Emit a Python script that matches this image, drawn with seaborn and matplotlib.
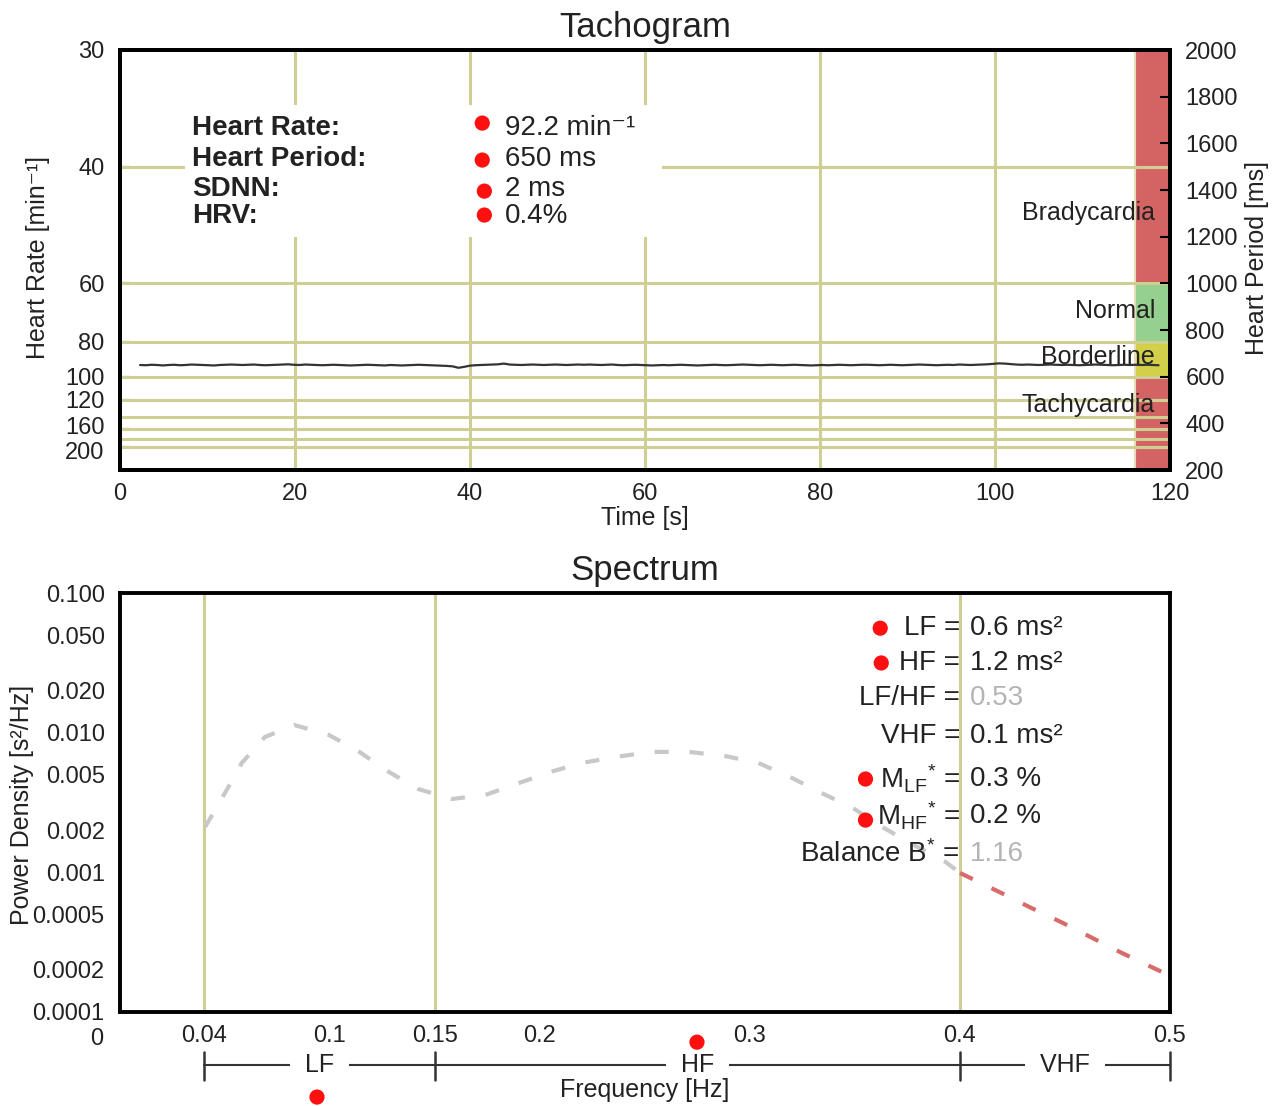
import numpy as np
import pandas as pd
import seaborn as sns
import matplotlib.pyplot as plt
from matplotlib.patches import Rectangle
from matplotlib.transforms import ScaledTranslation

# --- tachogram data (RR intervals, ms) ---
first_beat_s = 1.65
rr_ms = [
    650, 649, 651, 650, 648, 650, 651, 649, 650, 652, 651, 650, 649, 648, 650, 651,
    652, 651, 650, 651, 652, 650, 649, 650, 651, 652, 653, 651, 650, 652, 651, 650,
    649, 650, 651, 650, 649, 648, 649, 650, 651, 650, 649, 648, 650, 649, 648, 649,
    650, 651, 650, 649, 648, 647, 646, 644, 638, 642, 647, 649, 650, 651, 652, 653,
    656, 652, 651, 650, 651, 652, 651, 650, 651, 652, 651, 650, 651, 652, 651, 652,
    651, 650, 651, 652, 650, 649, 650, 651, 650, 649, 648, 649, 650, 649, 650, 651,
    650, 649, 648, 649, 650, 651, 650, 649, 650, 651, 652, 651, 650, 649, 650, 651,
    650, 649, 650, 651, 650, 649, 648, 649, 650, 649, 650, 651, 650, 649, 650, 651,
    651, 650, 649, 650, 651, 650, 649, 650, 651, 652, 651, 650, 649, 650, 651, 650,
    652, 651, 650, 651, 652, 653, 655, 657, 656, 654, 652, 651, 652, 651, 650, 651,
    652, 651, 650, 651, 650, 649, 650, 651, 652, 651, 650, 649, 650, 651, 650, 651,
    650, 651, 650, 649,
]

stat_names = ["Heart Rate:", "Heart Period:", "SDNN:", "HRV:"]
stat_values = ["92.2 min\u207b\u00b9", "650 ms", "2 ms", "0.4%"]

zone_names = ["Bradycardia", "Normal", "Borderline", "Tachycardia"]
zone_hr_lo = [30, 60, 80, 100]
zone_hr_hi = [60, 80, 100, 300]
zone_colors = ["#d46464", "#96d08e", "#d2cf48", "#d46464"]

hr_ticks = [30, 40, 60, 80, 100, 120, 160, 200]
hr_grid = [40, 60, 80, 100, 120, 140, 160, 180, 200]
period_ticks = [200, 400, 600, 800, 1000, 1200, 1400, 1600, 1800, 2000]
time_ticks = [0, 20, 40, 60, 80, 100, 120]
time_minor = [10, 30, 50, 70, 90, 110]
time_grid = [20, 40, 60, 80, 100]

# --- spectrum data ---
freq = [0.0405, 0.050, 0.058, 0.069, 0.083, 0.0995, 0.114, 0.128, 0.142, 0.158,
        0.174, 0.190, 0.205, 0.220, 0.236, 0.253, 0.271, 0.288, 0.304, 0.320,
        0.334, 0.349, 0.363, 0.378, 0.393, 0.400, 0.419, 0.433, 0.449, 0.463,
        0.477, 0.496]
psd = [0.00211, 0.00370, 0.00607, 0.00931, 0.01135, 0.00963, 0.00728, 0.00524,
       0.00395, 0.00335, 0.00358, 0.00436, 0.00524, 0.00607, 0.00670, 0.00728,
       0.00728, 0.00681, 0.00607, 0.00474, 0.00370, 0.00289, 0.00211, 0.00157,
       0.00119, 0.00099, 0.00072, 0.000565, 0.000434, 0.000339, 0.000265, 0.000194]

band_edges = [0.04, 0.15, 0.4, 0.5]
band_names = ["LF", "HF", "VHF"]

spec_names = ["LF", "HF", "LF/HF", "VHF", r"$\mathrm{M_{LF}{}^{*}}$",
              r"$\mathrm{M_{HF}{}^{*}}$", r"Balance B$^{*}$"]
spec_values = ["0.6 ms\u00b2", "1.2 ms\u00b2", "0.53", "0.1 ms\u00b2",
               "0.3 %", "0.2 %", "1.16"]
spec_muted = [False, False, True, False, False, False, True]

psd_ticks = [0.0001, 0.0002, 0.0005, 0.001, 0.002, 0.005, 0.01, 0.02, 0.05, 0.1]
psd_labels = ["0.0001", "0.0002", "0.0005", "0.001", "0.002", "0.005",
              "0.010", "0.020", "0.050", "0.100"]
freq_ticks = [0.04, 0.1, 0.15, 0.2, 0.3, 0.4, 0.5]

sns.set_theme(style="white")
plt.rcParams["font.family"] = ["Liberation Sans", "DejaVu Sans"]
plt.rcParams["mathtext.fontset"] = "custom"
plt.rcParams["mathtext.rm"] = "Liberation Sans"
plt.rcParams["mathtext.it"] = "Liberation Sans:italic"
plt.rcParams["mathtext.bf"] = "Liberation Sans:bold"

GRID = "#cfcf94"
TXT = "#222222"
TICK_FS = 17
LABEL_FS = 18
NOTE_FS = 20

fig = plt.figure(figsize=(12.79, 11.06), dpi=100)
ax = fig.add_axes([120 / 1279, 1 - 470 / 1106, 1050 / 1279, 420 / 1106])
ax_s = fig.add_axes([120 / 1279, 1 - 1012 / 1106, 1050 / 1279, 419 / 1106])


def style_spines(a):
    for sp in a.spines.values():
        sp.set_visible(True)
        sp.set_color("black")
        sp.set_linewidth(2.8)
    a.tick_params(direction="in", length=7, width=1.5, colors="black",
                  labelcolor=TXT, labelsize=TICK_FS)
    a.tick_params(axis="x", pad=9)
    a.tick_params(axis="y", pad=11)
    a.tick_params(which="minor", direction="in", length=6, width=1.5, colors="black")


# ---------------- Tachogram ----------------
times = first_beat_s + np.cumsum(rr_ms) / 1000.0
tacho = pd.DataFrame({"time": times, "period": rr_ms})

zone_t = [116, 120]
for lo, hi, c in zip(zone_hr_lo, zone_hr_hi, zone_colors):
    ax.fill_between(zone_t, 60000 / hi, 60000 / lo, color=c, lw=0, zorder=1)
ax.axvline(116, color="#e6dcb8", lw=1.5, zorder=1)

for hr in hr_grid:
    ax.axhline(60000 / hr, color=GRID, lw=2.2, zorder=2)
for t in time_grid:
    ax.axvline(t, color=GRID, lw=2.2, zorder=2)

sns.lineplot(data=tacho, x="time", y="period", ax=ax, color="#333333",
             lw=1.6, estimator=None, zorder=6)

zone_label_y = [1300, 880, 684, 479]
for name, y in zip(zone_names, zone_label_y):
    ax.text(118.3, y, name, ha="right", va="center", fontsize=18, color=TXT, zorder=7)

ax.add_patch(Rectangle((0.062, 0.555), 0.454, 0.314, transform=ax.transAxes,
                       fc="white", ec="none", zorder=3))
row_y = [0.814, 0.740, 0.669, 0.605]
dot_x = [0.345, 0.345, 0.347, 0.347]
dot_y = [0.826, 0.738, 0.664, 0.607]
for name, val, y in zip(stat_names, stat_values, row_y):
    ax.text(0.0686, y, name, transform=ax.transAxes, ha="left", va="center",
            fontsize=NOTE_FS, fontweight="bold", color=TXT, zorder=4)
    ax.text(0.367, y, val, transform=ax.transAxes, ha="left", va="center",
            fontsize=NOTE_FS, color=TXT, zorder=4)
ax.scatter(dot_x, dot_y, transform=ax.transAxes, s=120, color="#ff1010",
           edgecolor="none", zorder=5)

ax.set_xlim(0, 120)
ax.set_ylim(200, 2000)
ax.set_xticks(time_ticks)
ax.set_xticks(time_minor, minor=True)
ax.set_yticks([60000 / hr for hr in hr_ticks])
ax.set_yticklabels([str(hr) for hr in hr_ticks])
style_spines(ax)
# the two lowest heart-rate labels sit very close: nudge them apart a little
for lab in ax.get_yticklabels():
    if lab.get_text() == "160":
        lab.set_transform(lab.get_transform() + ScaledTranslation(0, 4 / 100, fig.dpi_scale_trans))
    elif lab.get_text() == "200":
        lab.set_transform(lab.get_transform() + ScaledTranslation(0, -4 / 100, fig.dpi_scale_trans))

ax.set_xlabel("Time [s]", fontsize=LABEL_FS, color=TXT, va="center")
ax.xaxis.set_label_coords(0.5, -0.114)
ax.set_ylabel("Heart Rate [min\u207b\u00b9]", fontsize=LABEL_FS, color=TXT, va="center")
ax.yaxis.set_label_coords(-0.078, 0.505)
ax.set_title("Tachogram", fontsize=25, color=TXT, y=1.032, pad=0)

ax2 = ax.twinx()
ax2.set_ylim(200, 2000)
ax2.set_yticks(period_ticks)
style_spines(ax2)
ax2.grid(False)
ax2.set_ylabel("Heart Period [ms]", fontsize=LABEL_FS, color=TXT, va="center")
ax2.yaxis.set_label_coords(1.083, 0.505)

# ---------------- Spectrum ----------------
spec = pd.DataFrame({"freq": freq, "psd": psd})
for f in band_edges[:3]:
    ax_s.axvline(f, color=GRID, lw=2.2, zorder=1)

sns.lineplot(data=spec[spec["freq"] <= 0.4], x="freq", y="psd", ax=ax_s,
             color="#c8c8c8", lw=3.0, linestyle=(0, (3.4, 5)), estimator=None, zorder=3)
sns.lineplot(data=spec[spec["freq"] >= 0.4], x="freq", y="psd", ax=ax_s,
             color="#d86a6a", lw=3.0, linestyle=(0, (3.4, 5)), estimator=None, zorder=3)

ax_s.set_yscale("log")
ax_s.set_xlim(0, 0.5)
ax_s.set_ylim(0.0001, 0.1)
ax_s.set_yticks(psd_ticks)
ax_s.set_yticklabels(psd_labels)
ax_s.yaxis.set_minor_locator(plt.NullLocator())
ax_s.set_xticks(freq_ticks)
ax_s.set_xticklabels([f"{v:g}" for v in freq_ticks])
style_spines(ax_s)
ax_s.text(-0.022, -0.064, "0", transform=ax_s.transAxes, ha="center", va="center",
          fontsize=TICK_FS, color=TXT)

ax_s.set_xlabel("Frequency [Hz]", fontsize=LABEL_FS, color=TXT, va="center")
ax_s.xaxis.set_label_coords(0.5, -0.186)
ax_s.set_ylabel("Power Density [s\u00b2/Hz]", fontsize=LABEL_FS, color=TXT, va="center")
ax_s.yaxis.set_label_coords(-0.093, 0.494)
ax_s.set_title("Spectrum", fontsize=25, color=TXT, y=1.032, pad=0)

spec_row_y = [0.916, 0.833, 0.749, 0.659, 0.556, 0.468, 0.377]
for name, val, muted, y in zip(spec_names, spec_values, spec_muted, spec_row_y):
    ax_s.text(0.800, y, name + " =", transform=ax_s.transAxes, ha="right",
              va="center", fontsize=NOTE_FS, color=TXT, zorder=4)
    ax_s.text(0.8095, y, val, transform=ax_s.transAxes, ha="left", va="center",
              fontsize=NOTE_FS, color="#b4b4b4" if muted else TXT, zorder=4)
ax_s.scatter([0.724, 0.725, 0.710, 0.710, 0.5495, 0.1876],
             [0.916, 0.833, 0.556, 0.458, -0.072, -0.203],
             transform=ax_s.transAxes, s=120, color="#ff1010", edgecolor="none",
             zorder=5, clip_on=False)

# band ruler below the frequency axis
trans = ax_s.get_xaxis_transform()
ax_s.plot([band_edges[0], band_edges[-1]], [-0.1265, -0.1265], transform=trans,
          color="#333333", lw=1.5, clip_on=False)
for f in band_edges:
    ax_s.plot([f, f], [-0.095, -0.162], transform=trans, color="#333333",
              lw=1.8, clip_on=False)
for name, lo, hi in zip(band_names, band_edges[:-1], band_edges[1:]):
    ax_s.text((lo + hi) / 2, -0.1265, "  " + name + "  ", transform=trans,
              ha="center", va="center", fontsize=18, color=TXT,
              bbox=dict(boxstyle="square,pad=0.05", fc="white", ec="none"))

fig.savefig("out.png", dpi=100)
